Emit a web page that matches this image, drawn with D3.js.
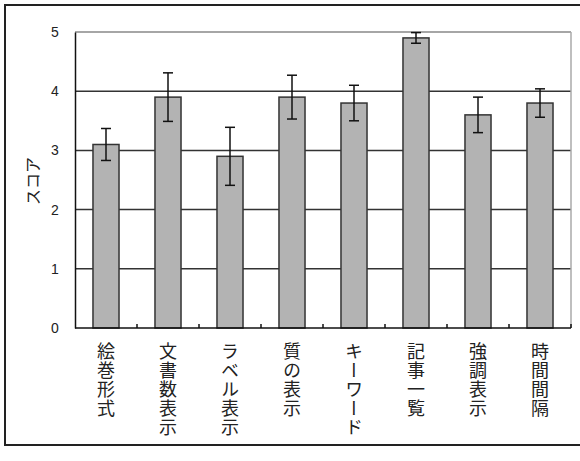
<!DOCTYPE html>
<html>
<head>
<meta charset="utf-8">
<script src="https://cdn.jsdelivr.net/npm/d3@7"></script>
<style>
  body { margin: 0; background: #fff; }
  .x-label { font-family: "Noto Sans CJK JP", sans-serif; font-size: 18px; letter-spacing: 1px; writing-mode: vertical-rl; }
  .tick text { font-family: "Liberation Sans", Arial, sans-serif; font-size: 14px; }
</style>
</head>
<body>
<div id="chart"></div>
<script>
// values
const categories = ["絵巻形式", "文書数表示", "ラベル表示", "質の表示", "キーワード", "記事一覧", "強調表示", "時間間隔"];
const scores = [3.1, 3.9, 2.9, 3.9, 3.8, 4.9, 3.6, 3.8];
const errors = [0.27, 0.41, 0.49, 0.37, 0.3, 0.09, 0.3, 0.24];
const yTicks = [0, 1, 2, 3, 4, 5];

let margin = { left: 75, right: 9, top: 32, bottom: 133 };
let width = 580 - margin.left - margin.right;
let height = 461 - margin.top - margin.bottom;

let svg = d3
  .select("#chart")
  .append("svg")
  .attr("width", 580)
  .attr("height", 461);

// outer frame (right edge runs off the picture)
svg
  .append("rect")
  .attr("x", 5)
  .attr("y", 5)
  .attr("width", 600)
  .attr("height", 440)
  .attr("fill", "none")
  .attr("stroke", "#222")
  .attr("stroke-width", 2);

let g = svg
  .append("g")
  .attr("transform", "translate(" + margin.left + ", " + margin.top + ")");

let x = d3
  .scaleBand()
  .domain(categories)
  .range([0, width])
  .paddingInner(0.58)
  .paddingOuter(0.29);

let y = d3.scaleLinear().domain([0, 5]).range([height, 0]);

let data = categories.map((c, i) => ({ name: c, value: scores[i], err: errors[i] }));

// gridlines
g.selectAll(".grid")
  .data(yTicks.filter(t => t > 0))
  .enter()
  .append("line")
  .attr("x1", 0)
  .attr("x2", width)
  .attr("y1", d => y(d))
  .attr("y2", d => y(d))
  .attr("stroke", d => (d === 5 ? "#888" : "#333"))
  .attr("stroke-width", 1.5);

// right border of plot
g.append("line")
  .attr("x1", width)
  .attr("x2", width)
  .attr("y1", y(5))
  .attr("y2", y(0))
  .attr("stroke", "#aaa")
  .attr("stroke-width", 1.5);

// bars
g.selectAll(".bar")
  .data(data)
  .enter()
  .append("rect")
  .attr("class", "bar")
  .attr("x", d => x(d.name))
  .attr("y", d => y(d.value))
  .attr("width", x.bandwidth())
  .attr("height", d => height - y(d.value))
  .attr("fill", "#b3b3b3")
  .attr("stroke", "#333")
  .attr("stroke-width", 1.5);

// error bars
let eb = g
  .selectAll(".err")
  .data(data)
  .enter()
  .append("g")
  .attr("class", "err")
  .attr("transform", d => "translate(" + (x(d.name) + x.bandwidth() / 2) + ",0)")
  .attr("stroke", "#111")
  .attr("stroke-width", 1.5);

eb.append("line")
  .attr("y1", d => y(d.value + d.err))
  .attr("y2", d => y(d.value - d.err));
eb.append("line")
  .attr("x1", -5)
  .attr("x2", 5)
  .attr("y1", d => y(d.value + d.err))
  .attr("y2", d => y(d.value + d.err));
eb.append("line")
  .attr("x1", -5)
  .attr("x2", 5)
  .attr("y1", d => y(d.value - d.err))
  .attr("y2", d => y(d.value - d.err));

// y axis
let yAxis = d3
  .axisLeft(y)
  .tickValues(yTicks)
  .tickFormat(d3.format("d"))
  .tickSize(0)
  .tickPadding(17);
let yAxisGroup = g.append("g").attr("class", "y axis").call(yAxis);
yAxisGroup.select(".domain").attr("stroke", "#111").attr("stroke-width", 1.5);
yAxisGroup.selectAll(".tick text").attr("fill", "#222").attr("text-anchor", "middle").attr("dx", "-3");

// x axis: baseline plus small ticks at category boundaries
g.append("line")
  .attr("x1", 0)
  .attr("x2", width)
  .attr("y1", height)
  .attr("y2", height)
  .attr("stroke", "#111")
  .attr("stroke-width", 1.5);

g.selectAll(".xtick")
  .data(categories)
  .enter()
  .append("line")
  .attr("x1", d => x(d) - x.step() * 0.29 + x.step())
  .attr("x2", d => x(d) - x.step() * 0.29 + x.step())
  .attr("y1", height)
  .attr("y2", height - 4)
  .attr("stroke", "#111")
  .attr("stroke-width", 1.5);

// vertical category labels
g.selectAll(".x-label")
  .data(categories)
  .enter()
  .append("text")
  .attr("class", "x-label")
  .attr("x", d => x(d) + x.bandwidth() / 2)
  .attr("y", height + 14)
  .attr("fill", "#222")
  .text(d => d);

// y title
svg
  .append("text")
  .attr("transform", "translate(32,181) rotate(-90)")
  .attr("text-anchor", "middle")
  .attr("dominant-baseline", "central")
  .style("font-family", "'Noto Sans CJK JP', sans-serif")
  .style("font-size", "16px")
  .attr("fill", "#222")
  .text("スコア");
</script>
</body>
</html>
